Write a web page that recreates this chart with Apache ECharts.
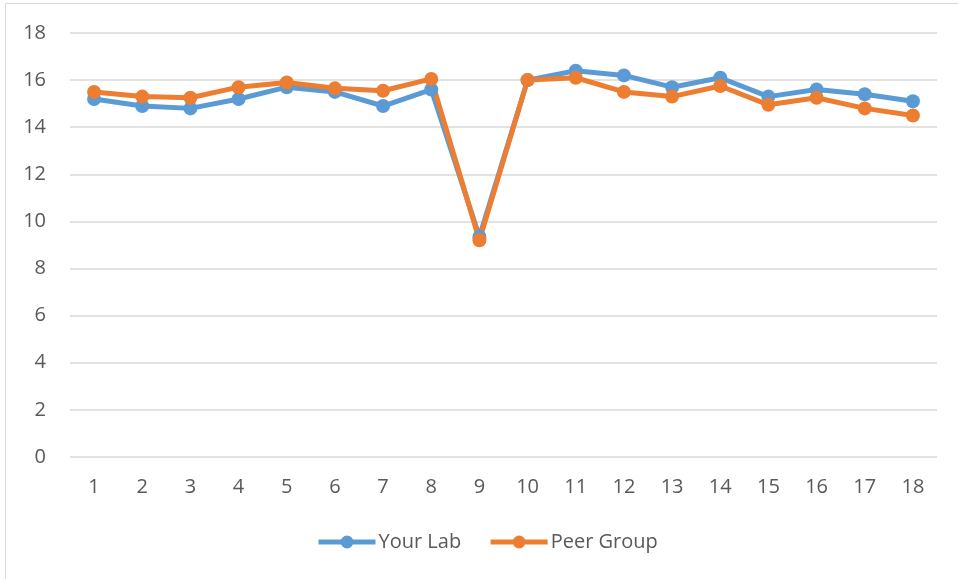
<!DOCTYPE html>
<html lang="en">
<head>
    <meta charset="UTF-8">
    <title>Your Lab vs Peer Group</title>
    <script src="https://cdn.jsdelivr.net/npm/echarts@6/dist/echarts.min.js"></script>
    <style>
        html, body { margin: 0; padding: 0; background: #fff; }
        #chart { width: 958px; height: 579px; }
    </style>
</head>
<body>
    <div id="chart"></div>
<script>
    var categories = ['1', '2', '3', '4', '5', '6', '7', '8', '9', '10', '11', '12', '13', '14', '15', '16', '17', '18'];
    var yourLab = [15.2, 14.9, 14.8, 15.2, 15.7, 15.5, 14.9, 15.6, 9.35, 16.0, 16.4, 16.2, 15.7, 16.1, 15.3, 15.6, 15.4, 15.1];
    var peerGroup = [15.5, 15.3, 15.25, 15.7, 15.9, 15.65, 15.55, 16.05, 9.2, 16.0, 16.1, 15.5, 15.3, 15.75, 14.95, 15.25, 14.8, 14.5];

    var labelStyle = { color: '#595959', fontSize: 20, fontFamily: 'Open Sans' };

    var myChart = echarts.init(document.getElementById('chart'));
    var option = {
        animation: false,
        graphic: [
            { type: 'line', shape: { x1: 5.5, y1: 3, x2: 5.5, y2: 579 }, style: { stroke: '#d9d9d9', lineWidth: 1 } },
            { type: 'line', shape: { x1: 5, y1: 3.5, x2: 958, y2: 3.5 }, style: { stroke: '#d9d9d9', lineWidth: 1 } }
        ],
        grid: { left: 70, right: 21, top: 33, bottom: 122, containLabel: false },
        legend: {
            bottom: 22,
            left: 311,
            itemWidth: 57,
            itemHeight: 16,
            itemGap: 27,
            lineStyle: { width: 5 },
            textStyle: { color: '#595959', fontSize: 20, fontFamily: 'Open Sans', padding: [0, 0, 0, -2] },
            data: ['Your Lab', 'Peer Group']
        },
        xAxis: {
            type: 'category',
            data: categories,
            boundaryGap: true,
            axisLine: { show: false },
            axisTick: { show: false },
            axisLabel: Object.assign({ margin: 20 }, labelStyle)
        },
        yAxis: {
            type: 'value',
            min: 0,
            max: 18,
            interval: 2,
            axisLine: { show: false },
            axisTick: { show: false },
            axisLabel: Object.assign({ margin: 24 }, labelStyle),
            splitLine: { lineStyle: { color: '#d9d9d9', width: 1.5 } }
        },
        series: [
            {
                name: 'Your Lab',
                type: 'line',
                data: yourLab,
                symbol: 'circle',
                symbolSize: 14,
                color: '#5b9bd5',
                lineStyle: { width: 5, color: '#5b9bd5' },
                itemStyle: { color: '#5b9bd5' }
            },
            {
                name: 'Peer Group',
                type: 'line',
                data: peerGroup,
                symbol: 'circle',
                symbolSize: 14,
                color: '#ed7d31',
                lineStyle: { width: 5, color: '#ed7d31' },
                itemStyle: { color: '#ed7d31' }
            }
        ]
    };
    myChart.setOption(option);
</script>
</body>
</html>
